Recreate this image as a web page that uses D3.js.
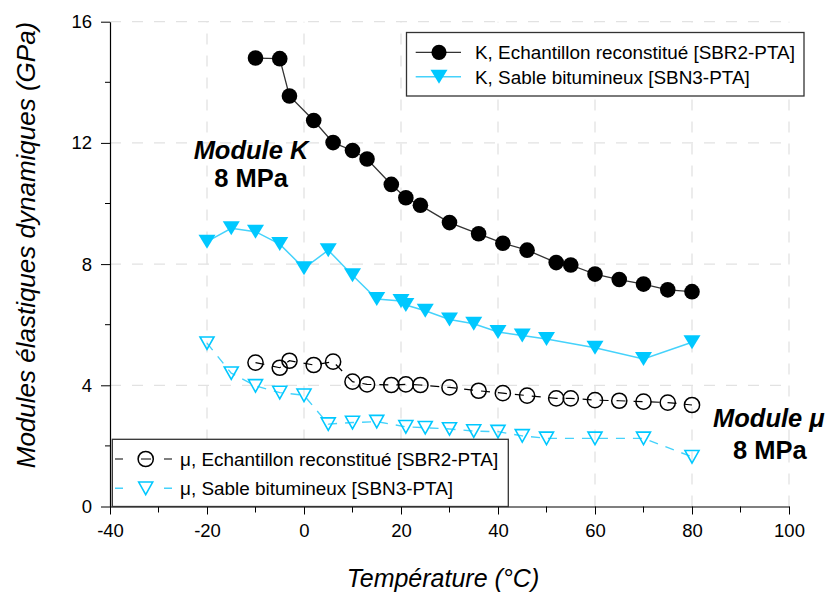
<!DOCTYPE html>
<html>
<head>
<meta charset="utf-8">
<script src="https://cdn.jsdelivr.net/npm/d3@7"></script>
<style>
  html, body { margin: 0; padding: 0; background: #ffffff; }
  svg { display: block; font-family: "Liberation Sans", Arial, sans-serif; }
</style>
</head>
<body>
<svg id="chart" width="833" height="595"></svg>
<script>
// Température (°C) and dynamic moduli (GPa)
const kRecT  = [-10, -5, -3, 2, 6, 10, 13, 18, 21, 24, 30, 36, 41, 46, 52, 55, 60, 65, 70, 75, 80];
const kRecV  = [14.8, 14.78, 13.55, 12.74, 12.01, 11.75, 11.47, 10.63, 10.19, 9.94, 9.37, 9.0, 8.69, 8.46, 8.05, 7.97, 7.67, 7.49, 7.34, 7.15, 7.09];
const kSabT  = [-20, -15, -10, -5, 0, 5, 10, 15, 20, 21, 25, 30, 35, 40, 45, 50, 60, 70, 80];
const kSabV  = [8.74, 9.18, 9.07, 8.66, 7.86, 8.46, 7.63, 6.85, 6.78, 6.65, 6.46, 6.17, 6.03, 5.76, 5.64, 5.53, 5.24, 4.87, 5.42];
const muRecT = [-10, -5, -3, 2, 6, 10, 13, 18, 21, 24, 30, 36, 41, 46, 52, 55, 60, 65, 70, 75, 80];
const muRecV = [4.75, 4.58, 4.81, 4.67, 4.78, 4.12, 4.03, 4.01, 4.03, 4.01, 3.93, 3.82, 3.74, 3.66, 3.57, 3.57, 3.51, 3.49, 3.46, 3.43, 3.35];
const muSabT = [-20, -15, -10, -5, 0, 5, 10, 15, 21, 25, 30, 35, 40, 45, 50, 60, 70, 80];
const muSabV = [5.39, 4.40, 3.98, 3.76, 3.67, 2.72, 2.77, 2.80, 2.63, 2.60, 2.56, 2.49, 2.47, 2.33, 2.25, 2.25, 2.25, 1.64];

const xTicks = [-40, -20, 0, 20, 40, 60, 80, 100];
const yTicks = [0, 4, 8, 12, 16];
const xMinor = [-30, -10, 10, 30, 50, 70, 90];
const yMinor = [2, 6, 10, 14];

const legendTop = ["K, Echantillon reconstitué [SBR2-PTA]", "K, Sable bitumineux [SBN3-PTA]"];
const legendBottom = ["μ, Echantillon reconstitué [SBR2-PTA]", "μ, Sable bitumineux [SBN3-PTA]"];

const CYAN = "#00c8ff", CYAN_LINE = "#45d2fb";

const svg = d3.select("#chart");
const x = d3.scaleLinear().domain([-40, 100]).range([110, 789]);
const y = d3.scaleLinear().domain([0, 16]).range([506.5, 21.7]);

// dashed grid
const grid = svg.append("g").attr("stroke", "#e2e2e2").attr("stroke-width", 1.3).attr("stroke-dasharray", "11,11");
grid.selectAll(".gx").data(xTicks.slice(1)).join("line")
  .attr("x1", d => x(d)).attr("x2", d => x(d)).attr("y1", y(0)).attr("y2", y(16));
grid.selectAll(".gy").data(yTicks.slice(1)).join("line")
  .attr("x1", x(-40)).attr("x2", x(100)).attr("y1", d => y(d)).attr("y2", d => y(d));

// axes (plain hyphen for negative labels)
const fontTick = "18.5px";
const plain = d => String(d);
const xAxis = d3.axisBottom(x).tickValues(xTicks).tickFormat(plain).tickSize(8).tickPadding(4).tickSizeOuter(0);
const gx = svg.append("g").attr("transform", `translate(0,${y(0)})`).call(xAxis);
gx.selectAll("text").attr("font-size", fontTick).attr("font-family", "Liberation Sans, Arial, sans-serif").attr("fill", "#000").attr("dy", "1em");
gx.append("g").selectAll("line").data(xMinor).join("line")
  .attr("x1", d => x(d)).attr("x2", d => x(d)).attr("y1", 0).attr("y2", 6).attr("stroke", "#000");

const yAxis = d3.axisLeft(y).tickValues(yTicks).tickFormat(plain).tickSize(9).tickPadding(9).tickSizeOuter(0);
const gy = svg.append("g").attr("transform", `translate(${x(-40)},0)`).call(yAxis);
gy.selectAll("text").attr("font-size", fontTick).attr("font-family", "Liberation Sans, Arial, sans-serif").attr("fill", "#000");
gy.append("g").selectAll("line").data(yMinor).join("line")
  .attr("x1", 0).attr("x2", -5).attr("y1", d => y(d)).attr("y2", d => y(d)).attr("stroke", "#000");
svg.selectAll(".domain").attr("stroke", "#000").attr("stroke-width", 1.2);

// axis titles
svg.append("text").attr("x", 443).attr("y", 587).attr("text-anchor", "middle")
  .attr("font-size", "25px").attr("font-style", "italic").text("Température (°C)");
svg.append("text").attr("transform", "translate(35,245) rotate(-90)").attr("text-anchor", "middle")
  .attr("font-size", "26px").attr("font-style", "italic").text("Modules élastiques dynamiques (GPa)");

// series helpers
const line = d3.line().x(d => x(d[0])).y(d => y(d[1]));
const zip = (a, b) => a.map((t, i) => [t, b[i]]);
const tri = (a, h) => `M${-a},${-h / 2}L${a},${-h / 2}L0,${h / 2}Z`;

const kRec = zip(kRecT, kRecV), kSab = zip(kSabT, kSabV);
const muRec = zip(muRecT, muRecV), muSab = zip(muSabT, muSabV);

// μ series (dashed, open markers)
svg.append("path").datum(muSab).attr("d", line).attr("fill", "none")
  .attr("stroke", CYAN_LINE).attr("stroke-width", 1.4).attr("stroke-dasharray", "9,8");
svg.append("path").datum(muRec).attr("d", line).attr("fill", "none")
  .attr("stroke", "#000").attr("stroke-width", 1.2).attr("stroke-dasharray", "9,8");
svg.append("g").selectAll("path").data(muSab).join("path")
  .attr("transform", d => `translate(${x(d[0])},${y(d[1])})`).attr("d", tri(7, 12.5))
  .attr("fill", "none").attr("stroke", CYAN).attr("stroke-width", 1.6);
svg.append("g").selectAll("circle").data(muRec).join("circle")
  .attr("cx", d => x(d[0])).attr("cy", d => y(d[1])).attr("r", 7.6)
  .attr("fill", "none").attr("stroke", "#000").attr("stroke-width", 1.5);

// K series (solid, filled markers)
svg.append("path").datum(kSab).attr("d", line).attr("fill", "none")
  .attr("stroke", CYAN_LINE).attr("stroke-width", 1.5);
svg.append("g").selectAll("path").data(kSab).join("path")
  .attr("transform", d => `translate(${x(d[0])},${y(d[1])})`).attr("d", tri(8.5, 14))
  .attr("fill", CYAN);
svg.append("path").datum(kRec).attr("d", line).attr("fill", "none")
  .attr("stroke", "#333").attr("stroke-width", 1.3);
svg.append("g").selectAll("circle").data(kRec).join("circle")
  .attr("cx", d => x(d[0])).attr("cy", d => y(d[1])).attr("r", 7.8).attr("fill", "#000");

// annotations
const ann = svg.append("g").attr("font-weight", "bold").attr("fill", "#000");
ann.append("text").attr("x", 251).attr("y", 159).attr("text-anchor", "middle")
  .attr("font-size", "25.5px").attr("font-style", "italic").text("Module K");
ann.append("text").attr("x", 251).attr("y", 187).attr("text-anchor", "middle")
  .attr("font-size", "25.5px").text("8 MPa");
ann.append("text").attr("x", 713).attr("y", 427)
  .attr("font-size", "25.5px").attr("font-style", "italic").text("Module μ");
ann.append("text").attr("x", 733).attr("y", 459)
  .attr("font-size", "25.5px").text("8 MPa");

// top legend
const lg1 = svg.append("g");
lg1.append("rect").attr("x", 406.5).attr("y", 32.5).attr("width", 397.5).attr("height", 63.5)
  .attr("fill", "#fff").attr("stroke", "#333").attr("stroke-width", 1.3);
const rows1 = [52.3, 76.7];
lg1.append("line").attr("x1", 415.7).attr("x2", 461).attr("y1", rows1[0]).attr("y2", rows1[0]).attr("stroke", "#333").attr("stroke-width", 1.3);
lg1.append("circle").attr("cx", 439).attr("cy", rows1[0]).attr("r", 7.6).attr("fill", "#000");
lg1.append("line").attr("x1", 415.7).attr("x2", 461).attr("y1", rows1[1]).attr("y2", rows1[1]).attr("stroke", CYAN_LINE).attr("stroke-width", 1.5);
lg1.append("path").attr("transform", `translate(439,${rows1[1]})`).attr("d", tri(8.5, 14)).attr("fill", CYAN);
lg1.selectAll("text").data(legendTop).join("text")
  .attr("x", 475).attr("y", (d, i) => rows1[i]).attr("dy", "0.36em")
  .attr("font-size", "18.9px").text(d => d);

// bottom legend
const lg2 = svg.append("g");
lg2.append("rect").attr("x", 112.3).attr("y", 439.3).attr("width", 396).attr("height", 67.2)
  .attr("fill", "#fff").attr("stroke", "#333").attr("stroke-width", 1.3);
const rows2 = [459, 488.3];
lg2.append("line").attr("x1", 115).attr("x2", 172).attr("y1", rows2[0]).attr("y2", rows2[0])
  .attr("stroke", "#000").attr("stroke-width", 1.2).attr("stroke-dasharray", "8,18,10,13,8");
lg2.append("circle").attr("cx", 145.7).attr("cy", rows2[0]).attr("r", 7.6)
  .attr("fill", "none").attr("stroke", "#000").attr("stroke-width", 1.5);
lg2.append("line").attr("x1", 115).attr("x2", 172).attr("y1", rows2[1]).attr("y2", rows2[1])
  .attr("stroke", CYAN_LINE).attr("stroke-width", 1.4).attr("stroke-dasharray", "8,41,8");
lg2.append("path").attr("transform", `translate(145.7,${rows2[1]})`).attr("d", tri(7, 12.5))
  .attr("fill", "none").attr("stroke", CYAN).attr("stroke-width", 1.6);
lg2.selectAll("text").data(legendBottom).join("text")
  .attr("x", 180).attr("y", (d, i) => rows2[i]).attr("dy", "0.36em")
  .attr("font-size", "18.9px").text(d => d);
</script>
</body>
</html>
